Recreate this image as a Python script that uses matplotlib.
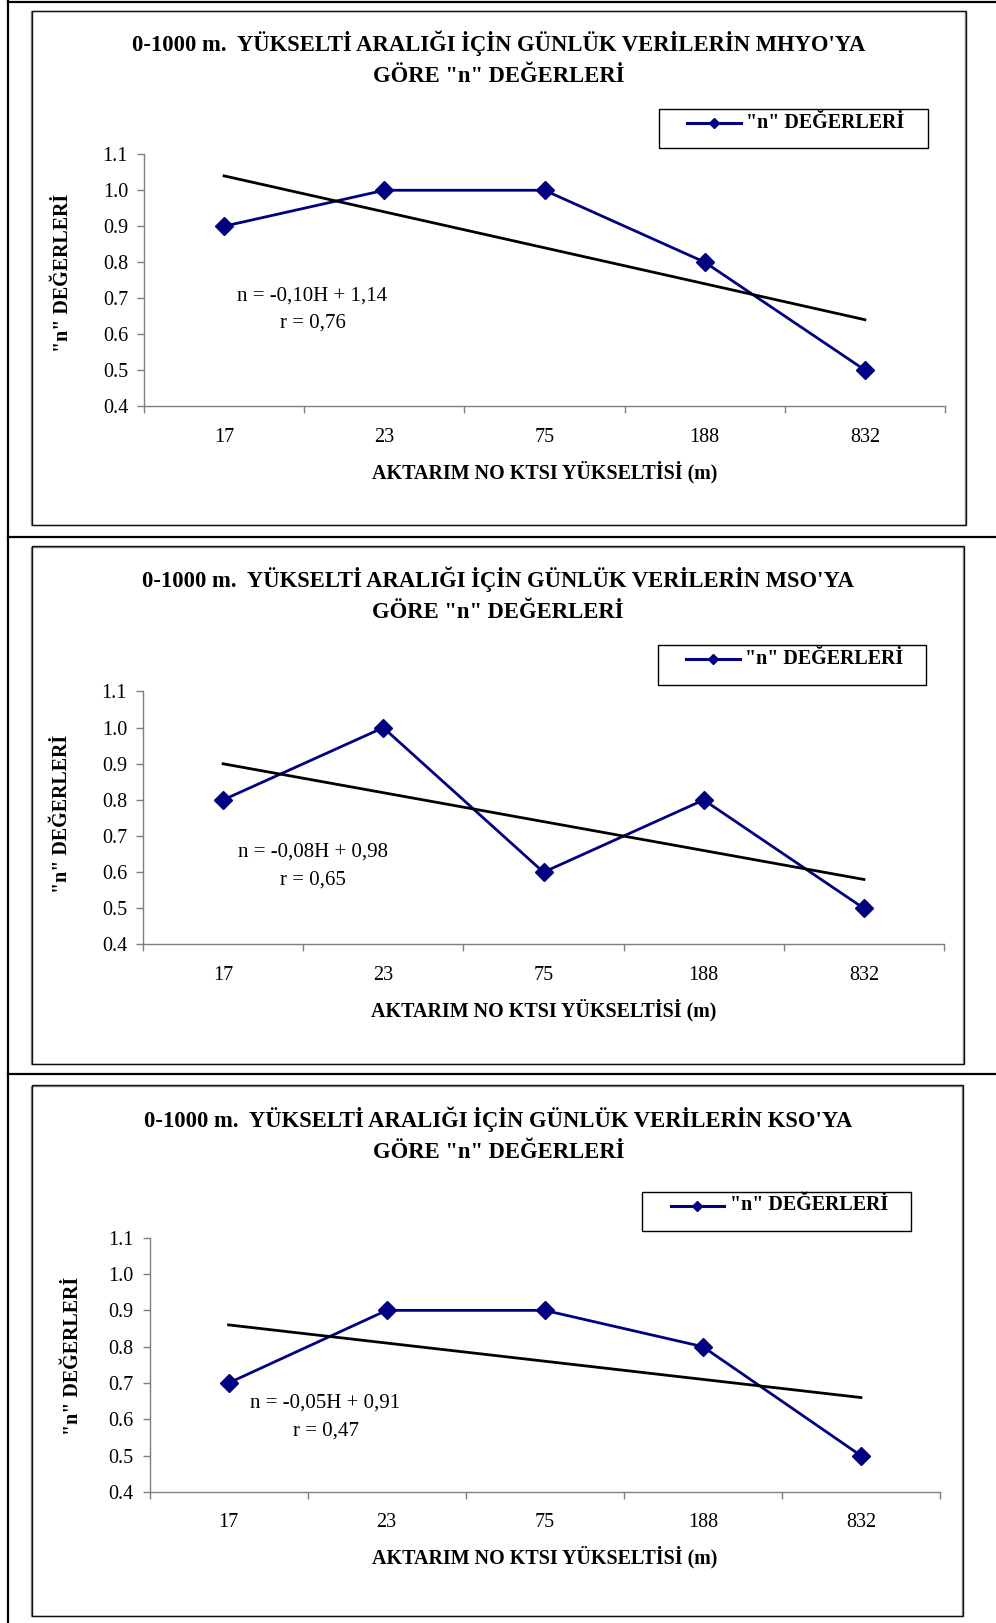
import matplotlib
matplotlib.use("Agg")
import matplotlib.pyplot as plt
from matplotlib.patches import Rectangle
from matplotlib.lines import Line2D
import numpy as np

# ---------------- data ----------------
categories = ["17", "23", "75", "188", "832"]
n_mhyo = [0.9, 1.0, 1.0, 0.8, 0.5]
n_mso = [0.8, 1.0, 0.6, 0.8, 0.5]
n_kso = [0.7, 0.9, 0.9, 0.8, 0.5]
stations = ["MHYO", "MSO", "KSO"]
slopes = [-0.10, -0.08, -0.05]
intercepts = [1.14, 0.98, 0.91]
r_values = [0.76, 0.65, 0.47]
y_ticks = [0.4, 0.5, 0.6, 0.7, 0.8, 0.9, 1.0, 1.1]
series = [n_mhyo, n_mso, n_kso]

legend_label = '"n" DEĞERLERİ'
y_label = '"n" DEĞERLERİ'
x_label = "AKTARIM NO KTSI YÜKSELTİSİ (m)"

# ---------------- layout (pixels) ----------------
W, H = 996, 1623
fig = plt.figure(figsize=(W / 100, H / 100), dpi=100)
fig.patch.set_facecolor("white")


def fx(x):
    return x / W


def fy(y):
    return 1 - y / H


SERIF = ["Liberation Serif", "DejaVu Serif"]
NAVY = "#000080"
TICK_FS = 14.5
AXIS_FS = 14.4
TITLE_FS = 16.3
EQ_FS = 15

panels = [
    dict(box=(31, 11.5, 964.7, 525), ax=(144, 154.3, 945, 406),
         title_y=(43.5, 76.5), title_x=499, eq=(312, 296, 313, 323),
         ylab=(63, 273), xtick_y=435, xlab_y=472,
         leg=(658.5, 109, 927.5, 148.3, 122.5)),
    dict(box=(31, 546.7, 963, 1064.3), ax=(143, 691.5, 944, 944.5),
         title_y=(579.7, 612.8), title_x=498, eq=(312.7, 852, 312.7, 880),
         ylab=(62, 814), xtick_y=973, xlab_y=1010.5,
         leg=(657.5, 645.3, 926, 684.6, 659)),
    dict(box=(31, 1085.7, 961.7, 1616), ax=(149.5, 1237.7, 940, 1492),
         title_y=(1119, 1152), title_x=498.5, eq=(325, 1403.3, 326, 1431),
         ylab=(72.7, 1356), xtick_y=1520, xlab_y=1557,
         leg=(642, 1192, 911, 1231.3, 1205.5)),
]

# outer table lines
fig.add_artist(Line2D([fx(7.7), fx(7.7)], [fy(0), fy(H)], color="black", lw=1.6))
for yy in [1.7, 536.7, 1074.3]:
    fig.add_artist(Line2D([fx(7.7), fx(W)], [fy(yy), fy(yy)], color="black", lw=1.6))

for k, p in enumerate(panels):
    # chart frame (with a faint shadow line)
    bx0, by0, bx1, by1 = p["box"]
    fig.add_artist(Rectangle((fx(bx0), fy(by1)), (bx1 - bx0) / W, (by1 - by0) / H,
                             transform=fig.transFigure, facecolor="none",
                             edgecolor="#8a8a8a", lw=1.0))
    fig.add_artist(Rectangle((fx(bx0 + 1), fy(by1 - 0.5)), (bx1 - bx0) / W, (by1 - by0) / H,
                             transform=fig.transFigure, facecolor="none",
                             edgecolor="#111111", lw=1.0))

    # axes
    L, T, R, B = p["ax"]
    ax = fig.add_axes([fx(L), fy(B), (R - L) / W, (B - T) / H])
    ax.set_facecolor("none")
    x = np.arange(1, len(categories) + 1)
    vals = series[k]
    ax.plot(x, vals, color=NAVY, lw=2.0, marker="D", ms=9.5,
            markerfacecolor=NAVY, markeredgecolor=NAVY, zorder=3, clip_on=False)
    xt = np.array([1, len(categories)])
    ax.plot(xt, slopes[k] * xt + intercepts[k], color="black", lw=2.0, zorder=4)

    ax.set_xlim(0.5, len(categories) + 0.5)
    ax.set_ylim(0.4, 1.1)
    ax.set_yticks(y_ticks)
    ax.set_yticklabels([f"{v:.1f}" for v in y_ticks])
    ax.set_xticks(np.arange(0.5, len(categories) + 1, 1.0))
    ax.set_xticklabels([])
    ax.set_xticks(x, minor=True)
    ax.set_xticklabels(categories, minor=True)
    for s in ["top", "right"]:
        ax.spines[s].set_visible(False)
    for s in ["left", "bottom"]:
        ax.spines[s].set_color("#7f7f7f")
        ax.spines[s].set_linewidth(1.0)
    ax.tick_params(axis="y", which="major", direction="out", length=5, width=1.0,
                   color="#7f7f7f", pad=6.5, labelsize=TICK_FS, labelcolor="black")
    ax.tick_params(axis="x", which="major", direction="out", length=5, width=1.0,
                   color="#7f7f7f")
    fpx = TICK_FS * 100 / 72
    xtick_pad = (p["xtick_y"] - B - 0.33 * fpx) * 0.72
    ax.tick_params(axis="x", which="minor", length=0, pad=xtick_pad,
                   labelsize=TICK_FS, labelcolor="black")
    for lab in ax.get_xticklabels(minor=True) + ax.get_yticklabels():
        lab.set_family(SERIF)

    # axis labels
    ax.set_ylabel(y_label, family=SERIF, fontweight="bold", fontsize=AXIS_FS, va="center")
    ax.yaxis.set_label_coords(fx(p["ylab"][0]), fy(p["ylab"][1]), transform=fig.transFigure)
    ax.set_xlabel(x_label, family=SERIF, fontweight="bold", fontsize=AXIS_FS, va="center")
    ax.xaxis.set_label_coords(fx((L + R) / 2), fy(p["xlab_y"]), transform=fig.transFigure)

    # titles
    t1 = f"0-1000 m.  YÜKSELTİ ARALIĞI İÇİN GÜNLÜK VERİLERİN {stations[k]}'YA"
    t2 = 'GÖRE "n" DEĞERLERİ'
    for txt, yy in zip([t1, t2], p["title_y"]):
        fig.text(fx(p["title_x"]), fy(yy), txt, family=SERIF, fontweight="bold",
                 fontsize=TITLE_FS, ha="center", va="center")

    # equation
    eq1 = f"n = {slopes[k]:.2f}H + {intercepts[k]:.2f}".replace(".", ",")
    eq2 = f"r = {r_values[k]:.2f}".replace(".", ",")
    ex1, ey1, ex2, ey2 = p["eq"]
    fig.text(fx(ex1), fy(ey1), eq1, family=SERIF, fontsize=EQ_FS, ha="center", va="center")
    fig.text(fx(ex2), fy(ey2), eq2, family=SERIF, fontsize=EQ_FS, ha="center", va="center")

    # legend box
    lx0, ly0, lx1, ly1, lcy = p["leg"]
    fig.add_artist(Rectangle((fx(lx0), fy(ly1)), (lx1 - lx0) / W, (ly1 - ly0) / H,
                             transform=fig.transFigure, facecolor="white",
                             edgecolor="black", lw=1.0))
    hx0 = lx0 + 28.5
    hx1 = lx0 + 82
    fig.add_artist(Line2D([fx(hx0), fx(hx1)], [fy(lcy), fy(lcy)], color=NAVY, lw=2.2))
    fig.add_artist(Line2D([fx((hx0 + hx1) / 2)], [fy(lcy)], color=NAVY, marker="D",
                          ms=5.4, markerfacecolor=NAVY, markeredgecolor=NAVY, lw=0))
    fig.text(fx(lx0 + 87.5), fy(lcy), legend_label, family=SERIF, fontweight="bold",
             fontsize=AXIS_FS, ha="left", va="center")

fig.savefig("out.png", dpi=100, facecolor="white")
